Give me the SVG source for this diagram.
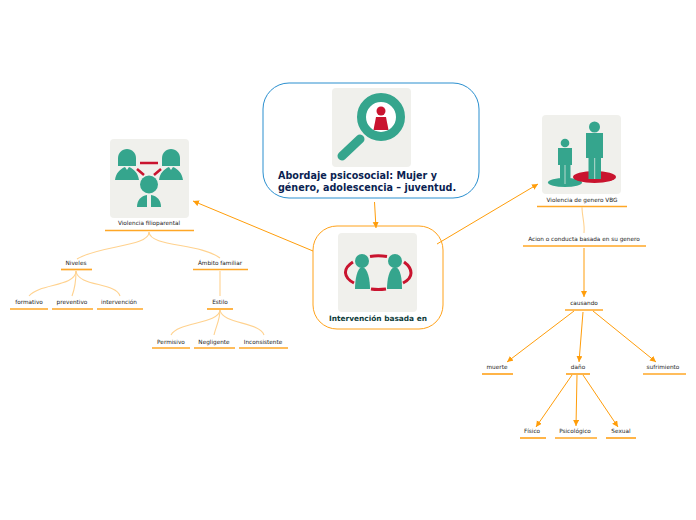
<svg xmlns="http://www.w3.org/2000/svg" width="696" height="520" viewBox="0 0 696 520">
<style>
text{font-family:"DejaVu Sans",sans-serif}
.l{font-size:5.75px;fill:#222;text-anchor:middle}
.u{stroke:#ffa726;stroke-width:1.7;fill:none}
.c{stroke:#ffd28f;stroke-width:1.1;fill:none}
.a{stroke:#ff9d0a;stroke-width:1;fill:none;marker-end:url(#ah)}
.img{fill:#f0f0ec}
.g{fill:#35a58d}
.r{fill:#c9142f}
.rs{stroke:#c9142f;fill:none;stroke-width:3}
.sep{stroke:#f0f0ec;stroke-width:.7;fill:none}
</style>
<defs>
<marker id="ah" markerUnits="userSpaceOnUse" markerWidth="8" markerHeight="8" refX="6" refY="3" orient="auto"><path d="M0 0L6 3L0 6Z" fill="#ff9d0a"/></marker>
</defs>
<rect width="696" height="520" fill="#fff"/>
<g id="main">
<rect x="263" y="83" width="216" height="115" rx="26" fill="#fff" stroke="#2a8fcf" stroke-width="1"/>
<rect class="img" x="332" y="88" width="79" height="79" rx="4"/>
<circle cx="381" cy="117" r="19.500" fill="#fff" stroke="#35a58d" stroke-width="9"/>
<path d="M360 139L342 156" stroke="#35a58d" stroke-width="9" stroke-linecap="round"/>
<circle class="r" cx="381" cy="111" r="4.500"/>
<path class="r" d="M376 117H386L388.500 130H373.500Z"/>
<text font-size="9.600" font-weight="700" fill="#0b1f52" x="278" y="179">Abordaje psicosocial: Mujer y</text>
<text font-size="9.600" font-weight="700" fill="#0b1f52" x="278" y="191">género, adolescencia – juventud.</text>
</g>
<g id="center">
<rect x="313" y="226" width="130" height="103" rx="24" fill="#fff" stroke="#ffa21a" stroke-width="1"/>
<rect class="img" x="338" y="233" width="79" height="79" rx="4"/>
<path class="rs" d="M370 256.500Q378 255 387 256.500M371 289Q378 290 386 289M353 262Q345 267 345.500 273Q346 279 354 283M404 262Q411 267 411 273Q411 279 403 283"/>
<circle class="g" cx="362" cy="261" r="7"/>
<circle class="g" cx="395" cy="261" r="7"/>
<path class="g" d="M362 267C357 268 355 280 355 289H370C370 280 368 268 362 267Z"/>
<path class="g" d="M395 267C389 268 387 280 387 289H402C402 280 401 268 395 267Z"/>
<text font-size="7.400" font-weight="700" fill="#0d3b3a" x="378" y="321" text-anchor="middle">Intervención basada en</text>
</g>
<g id="n-filio">
<rect class="img" x="110" y="139" width="79" height="79" rx="4"/>
<path class="g" d="M118 166V158C118 153 122 149 127 149C132 149 136 153 136 158V166Z"/>
<path class="g" d="M162 166V158C162 153 166 149 171 149C176 149 180 153 180 158V166Z"/>
<path class="g" d="M115 180C116 173 120 169 125 167L127 170L129 167C134 169 138 173 139 180Z"/>
<path class="g" d="M159 180C160 173 164 169 169 167L171 170L173 167C178 169 182 173 183 180Z"/>
<circle class="g" cx="149" cy="184.500" r="9"/>
<path class="g" d="M137 207C137 200 141 196 147 195V207Z"/>
<path class="g" d="M151 195C157 196 161 200 161 207H151Z"/>
<path d="M140 163H158M137 169L144 175M161 169L154 175" stroke="#c9142f" stroke-width="2.500" fill="none"/>
<text class="l" x="149" y="225">Violencia filioparental</text>
<path class="u" d="M105 230.500H194"/>
</g>
<g id="n-vbg">
<rect class="img" x="542" y="115" width="79" height="79" rx="4"/>
<ellipse cx="565" cy="182.500" rx="17" ry="4.500" fill="#35a58d"/>
<ellipse cx="594.500" cy="177" rx="21.500" ry="6" fill="#c9142f"/>
<circle class="g" cx="565" cy="143" r="4.300"/>
<path class="g" d="M558 148H572V165H570.500V184H560V165H558Z"/>
<path class="sep" d="M565 165V184"/>
<circle class="g" cx="594.500" cy="127" r="5.500"/>
<path class="g" d="M586 133H603V158H601V179H588.500V158H586Z"/>
<path class="sep" d="M594.700 158V179"/>
<text class="l" x="582" y="202">Violencia de genero VBG</text>
<path class="u" d="M537 206.500H627"/>
</g>
<g id="n-accion"><text class="l" x="584" y="241">Acion o conducta basada en su genero</text><path class="u" d="M523 246H646"/></g>
<g id="n-causando"><text class="l" x="584" y="305">causando</text><path class="u" d="M565 310H603"/></g>
<g id="n-muerte"><text class="l" x="497" y="369">muerte</text><path class="u" d="M482 374H513"/></g>
<g id="n-dano"><text class="l" x="578" y="369">daño</text><path class="u" d="M566 374H590"/></g>
<g id="n-sufrimiento"><text class="l" x="663" y="369">sufrimiento</text><path class="u" d="M643 374H686"/></g>
<g id="n-fisico"><text class="l" x="532" y="433">Físico</text><path class="u" d="M520 438H546"/></g>
<g id="n-psico"><text class="l" x="575" y="433">Psicológico</text><path class="u" d="M555 438H597"/></g>
<g id="n-sexual"><text class="l" x="621" y="433">Sexual</text><path class="u" d="M606 438H636"/></g>
<g id="n-niveles"><text class="l" x="76" y="265">Niveles</text><path class="u" d="M61 269.500H92"/></g>
<g id="n-ambito"><text class="l" x="220" y="265">Ámbito familiar</text><path class="u" d="M193 269.500H248"/></g>
<g id="n-formativo"><text class="l" x="29" y="304">formativo</text><path class="u" d="M10 309H48"/></g>
<g id="n-preventivo"><text class="l" x="72" y="304">preventivo</text><path class="u" d="M52 309H93"/></g>
<g id="n-intervencion"><text class="l" x="119" y="304">intervención</text><path class="u" d="M97 309H143"/></g>
<g id="n-estilo"><text class="l" x="220" y="304">Estilo</text><path class="u" d="M207 309H233"/></g>
<g id="n-permisivo"><text class="l" x="171" y="344">Permisivo</text><path class="u" d="M152 348H190"/></g>
<g id="n-negligente"><text class="l" x="214" y="344">Negligente</text><path class="u" d="M194 348H235"/></g>
<g id="n-inconsistente"><text class="l" x="263" y="344">Inconsistente</text><path class="u" d="M239 348H288"/></g>
<g id="connectors">
<path class="a" d="M374.500 202L376 228"/>
<path class="a" d="M313 251L193 201"/>
<path class="a" d="M437 244L538 184"/>
<path class="c" d="M149 232C149 247 100 245 77 259"/>
<path class="c" d="M149 232C150 247 200 243 220 258"/>
<path class="c" d="M76 271C75 287 40 283 29 296"/>
<path class="c" d="M76 271C76 280 75 288 72 296"/>
<path class="c" d="M76 271C78 287 116 282 120 296"/>
<path class="c" d="M220 271L220 296"/>
<path class="c" d="M220 310C219 324 178 322 171 335"/>
<path class="c" d="M220 310C220 320 216 326 214 335"/>
<path class="c" d="M220 310C222 324 260 322 264 335"/>
<path class="c" d="M582 207C582 216 585 224 584 233"/>
<path class="a" d="M584 248L584 297"/>
<path class="a" d="M574 311L507 362"/>
<path class="a" d="M583 312L579 362"/>
<path class="a" d="M593 311L656 362"/>
<path class="a" d="M572 375L536 427"/>
<path class="a" d="M577 375L576 426"/>
<path class="a" d="M583 375L618 427"/>
</g>
</svg>
